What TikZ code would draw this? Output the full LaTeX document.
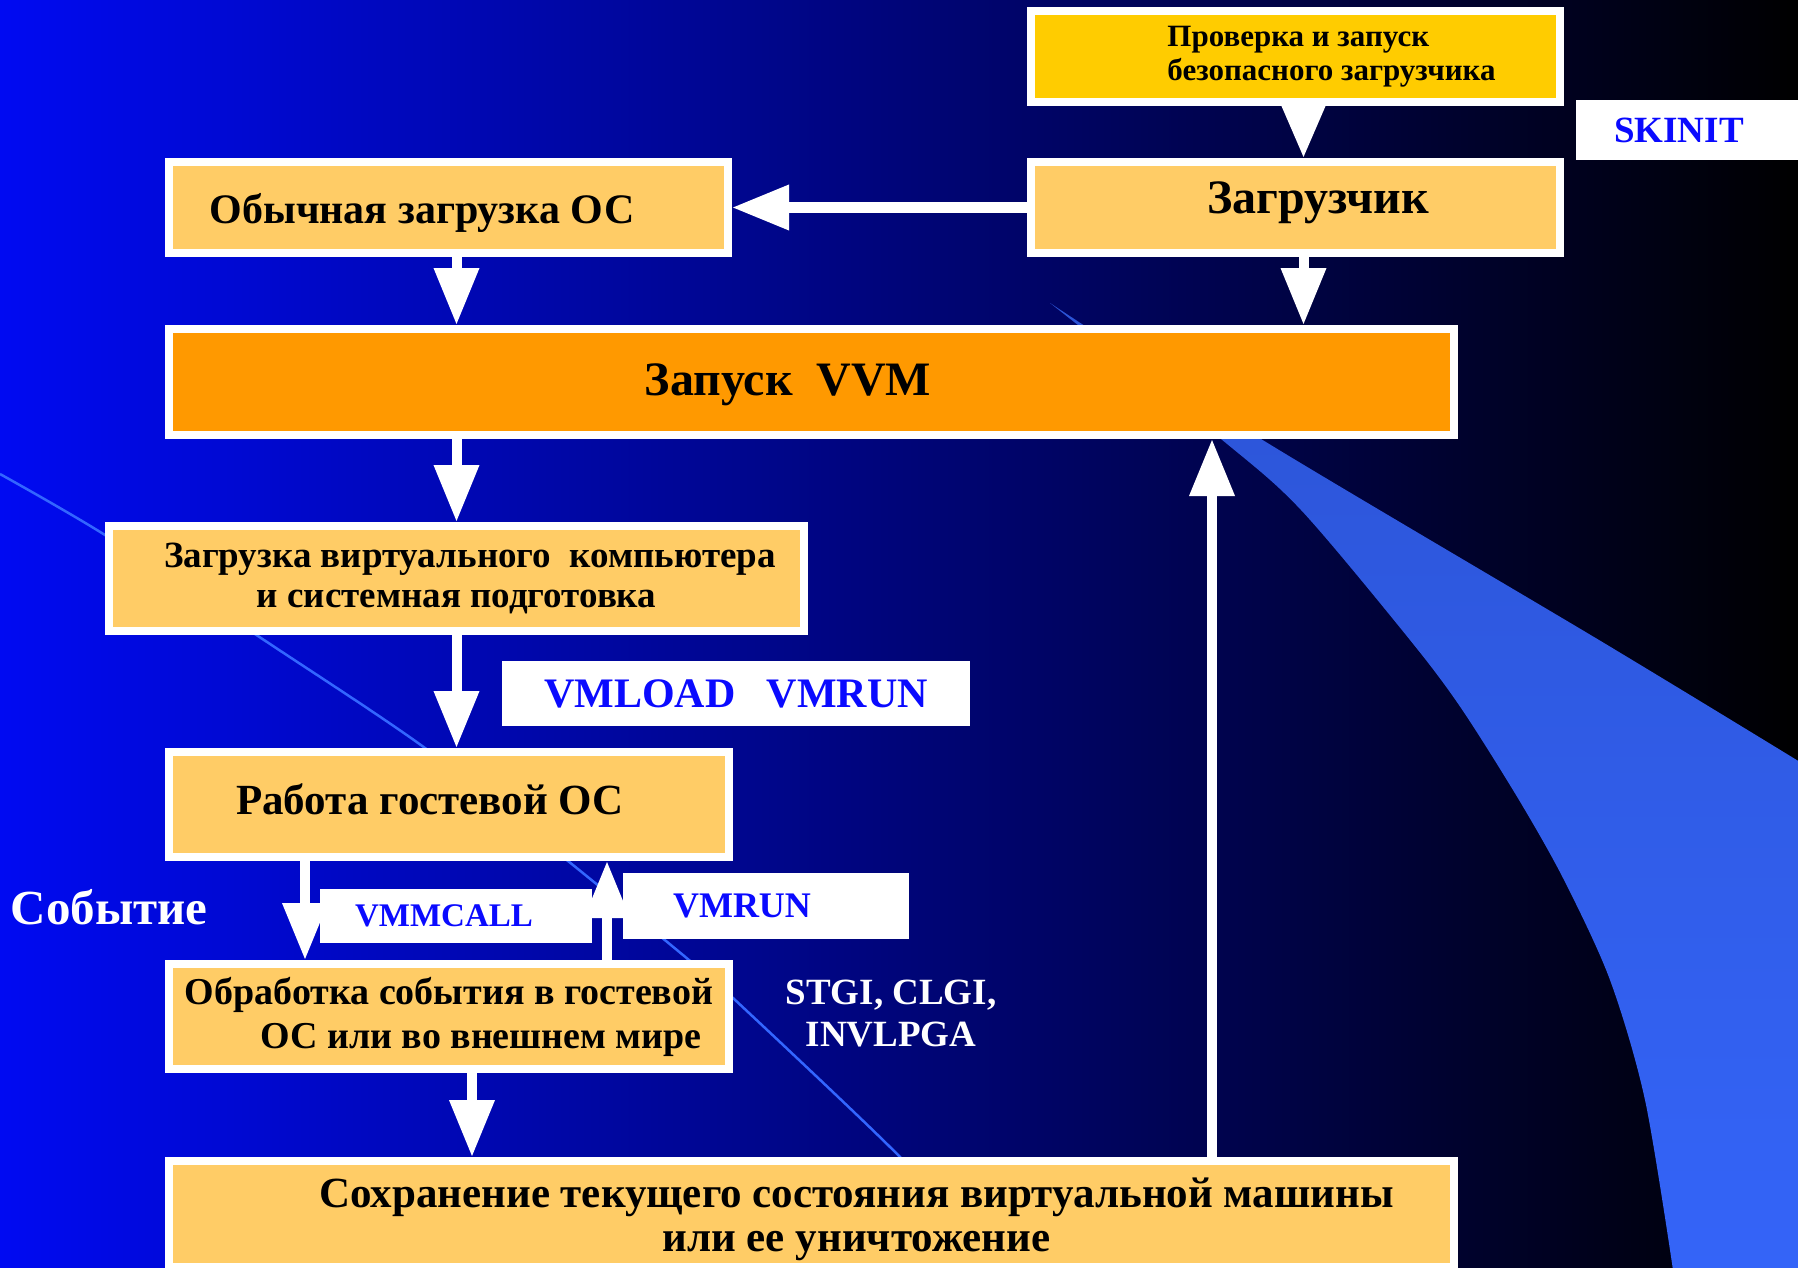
\documentclass[tikz,border=0pt]{standalone}
\usepackage{fontspec}
\setmainfont{Liberation Serif}
\usetikzlibrary{arrows.meta,calc}

\definecolor{bgblue}{RGB}{0,10,242}
\definecolor{boxfill}{RGB}{255,204,102}
\definecolor{gold}{RGB}{255,204,0}
\definecolor{vvmorange}{RGB}{255,153,0}
\definecolor{lblblue}{RGB}{10,10,255}
\definecolor{wedgedark}{RGB}{44,84,214}
\definecolor{wedgelight}{RGB}{52,100,248}
\definecolor{streak}{RGB}{51,102,255}

\newcommand{\boxfont}[2]{\bfseries\fontsize{#1}{#2}\selectfont}

\begin{document}
\begin{tikzpicture}[
    x=1pt, y=-1pt,
    every node/.style={font=\bfseries},
    unit/.style={
        draw=white,
        line width=8pt,
        fill=boxfill,
        align=center,
        inner sep=0pt
    },
    tag/.style={
        fill=white,
        text=lblblue,
        align=center,
        inner sep=0pt
    },
    note/.style={
        text=white,
        align=center,
        inner sep=0pt
    },
    arr/.style={-{Triangle[width=43pt,length=57pt]}, draw=white, line width=10pt},
    tri/.style={-{Triangle[width=41pt,length=52pt]}, draw=white, line width=10pt}
]

    \useasboundingbox (0,0) rectangle (1798,1268);
    \clip (0,0) rectangle (1798,1268);

    % Background
    \shade[left color=bgblue, right color=black] (0,0) rectangle (1798,1268);

    \draw[streak, line width=2.5pt] plot[smooth] coordinates {
        (0,474) (105,535) (264,640) (425,748) (568,861)
        (689,960) (733,998) (900,1157) (960,1230)};

    \shade[top color=wedgedark, bottom color=wedgelight]
        plot[smooth] coordinates {(1050,303) (1221,439) (1301,510) (1410,640)
        (1461,708) (1519,800) (1564,880) (1610,980) (1645,1100) (1673,1270)}
        -- (1800,1270)
        -- plot[smooth] coordinates {(1800,762) (1599,640) (1261,439) (1050,303)}
        -- cycle;

    % Start
    \node[
        unit,
        fill=gold,
        minimum width=529pt,
        minimum height=91pt,
        align=left,
        font=\boxfont{31}{34}
    ] (secure) at (1295.5,56.5) {\hspace*{72pt}Проверка и запуск\\\hspace*{72pt}безопасного загрузчика};

    \node[
        unit,
        minimum width=529pt,
        minimum height=91pt,
        text height=11pt,
        text depth=0pt,
        font=\boxfont{48}{52}
    ] (loader) at (1295.5,207.5) {\hspace*{45pt}Загрузчик};

    \node[
        unit,
        minimum width=559pt,
        minimum height=91pt,
        text height=31pt,
        text depth=0pt,
        font=\boxfont{42}{46}
    ] (normal) at (448.5,207.5) {Обычная загрузка ОС\hspace*{53pt}};

    % VVM
    \node[
        unit,
        fill=vvmorange,
        minimum width=1285pt,
        minimum height=106pt,
        text height=26pt,
        text depth=0pt,
        font=\boxfont{48}{52}
    ] (vvm) at (811.5,382) {Запуск\ \ VVM\hspace*{47pt}};

    \node[
        unit,
        minimum width=695pt,
        minimum height=105pt,
        font=\boxfont{37}{40}
    ] (vmload) at (456.5,578.5) {\hspace*{27pt}Загрузка виртуального\ \ компьютера\\и системная подготовка};

    % Guest
    \node[
        unit,
        minimum width=560pt,
        minimum height=105pt,
        text height=19pt,
        text depth=0pt,
        font=\boxfont{43}{46}
    ] (guest) at (449,804.5) {Работа гостевой ОС\hspace*{38pt}};

    \node[
        unit,
        minimum width=560pt,
        minimum height=105pt,
        font=\boxfont{38}{44}
    ] (event) at (449,1016.5) {Обработка события в гостевой\\\hspace*{64pt}ОС или во внешнем мире};

    \node[
        unit,
        minimum width=1285pt,
        minimum height=106pt,
        font=\boxfont{43}{44}
    ] (save) at (811.5,1214) {\rule{0pt}{40pt}\hspace*{90pt}Сохранение текущего состояния виртуальной машины\\\hspace*{90pt}или ее уничтожение};

    % Arrows
    \draw[tri] ($(secure.south)+(8,0)$) -- ($(loader.north)+(8,0)$);
    \draw[arr] ($(loader.south)+(8,0)$) -- ($(vvm.north -| loader)+(8,0)$);
    \draw[arr] (loader.west) -- (normal.east);
    \draw[arr] (normal.south -| vmload) -- (vvm.north -| vmload);
    \draw[arr] (vvm.south -| vmload) -- (vmload.north);
    \draw[arr] (vmload.south) -- (guest.north -| vmload);
    \draw[arr] ($(guest.south)+(-144,0)$) -- ($(event.north)+(-144,0)$);
    \draw[arr] ($(event.north)+(158,0)$) -- ($(guest.south)+(158,0)$);
    \draw[arr] ($(event.south)+(23,0)$) coordinate (outlet) -- (outlet |- save.north);
    \draw[arr] ($(save.north)+(400.5,0)$) -- ($(vvm.south)+(400.5,0)$);

    % Instructions
    \node[
        tag,
        minimum width=224pt,
        minimum height=60pt,
        font=\boxfont{37}{40}
    ] (skinit) at (1688,130) {SKINIT\hspace*{18pt}};

    \node[
        tag,
        minimum width=468pt,
        minimum height=65pt,
        font=\boxfont{42}{46}
    ] (loadtag) at (736,693.5) {VMLOAD\ \ \ VMRUN};

    \node[
        tag,
        minimum width=272pt,
        minimum height=54pt,
        font=\boxfont{33}{36}
    ] (calltag) at (456,916) {VMMCALL\hspace*{24pt}};

    \node[
        tag,
        minimum width=286pt,
        minimum height=66pt,
        font=\boxfont{36}{40}
    ] (runtag) at (766,906) {VMRUN\hspace*{48pt}};

    \node[note, font=\boxfont{49}{52}] (eventlbl) at (109,907) {Событие};
    \node[note, font=\boxfont{37}{42}] (gilbl) at (891,1014) {STGI, CLGI,\\INVLPGA};

\end{tikzpicture}
\end{document}
